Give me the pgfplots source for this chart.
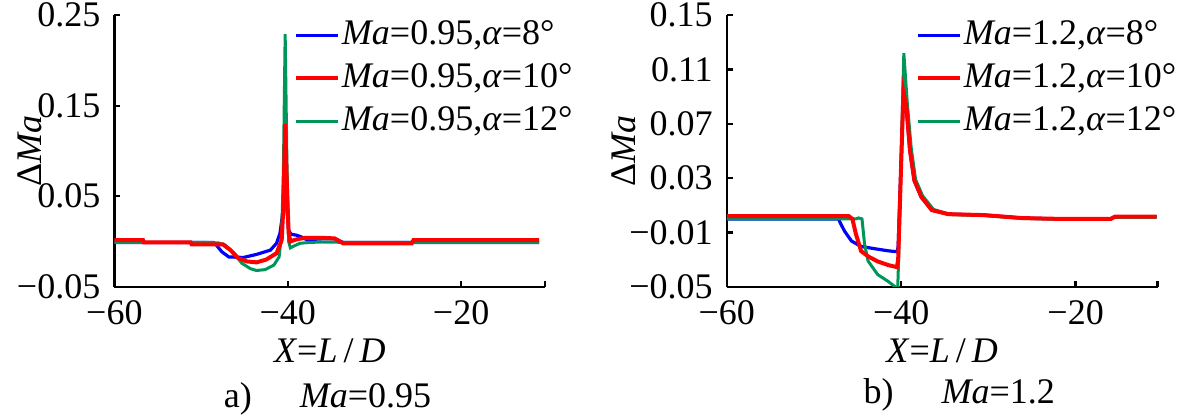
\documentclass[border=0pt]{standalone}
\usepackage{fontspec}
\setmainfont{Liberation Serif}
\usepackage{pgfplots}
\pgfplotsset{compat=1.18}
\definecolor{cblue}{RGB}{0,0,255}
\definecolor{cred}{RGB}{255,0,0}
\definecolor{cgreen}{RGB}{0,150,90}
\pgfplotsset{
 myaxis/.style={
  scale only axis, width=107.7pt, height=67.9pt,
  anchor=south west,
  axis x line=bottom, axis y line=left,
  axis line style={-, line width=0.6pt, black},
  tick align=inside, major tick length=1.5pt,
  tick style={line width=0.6pt, black},
  xmin=-60, xtick={-60,-40,-20}, xticklabels={−60,−40,−20},
  tick label style={font=\fontsize{9}{10}\selectfont, black},
  label style={font=\fontsize{9}{10}\selectfont},
  xlabel={\textit{X}=\textit{L}\,/\,\textit{D}},
  ylabel={Δ\textit{Ma}},
  xlabel style={at={(axis description cs:0.5,-0.235)}, anchor=center},
  legend style={draw=none, fill=none, font=\fontsize{9}{10}\selectfont, inner sep=0pt, row sep=2.35pt, column sep=0pt,
    nodes={inner sep=0.5pt}},
  legend cell align=left,
  legend image code/.code={\draw[#1] (0pt,0pt) -- (10.5pt,0pt);},
 }
}
\begin{document}
\begin{tikzpicture}
\useasboundingbox (0,0) rectangle (300pt,104.75pt);
% ---------------- panel a ----------------
\begin{axis}[myaxis, at={(28.6pt,33.05pt)},
  xmax=-10.3, extra x ticks={-10.3}, extra x tick labels={},
  ymin=-0.05, ymax=0.25, ytick={-0.05,0.05,0.15,0.25}, yticklabels={−0.05,0.05,0.15,0.25},
  ylabel style={at={(axis description cs:-0.196,0.5)}, anchor=center},
  legend style={at={(axis description cs:0.415,0.992)}, anchor=north west}]
\addplot[cblue, line width=0.8pt, forget plot] coordinates {
(-60,-0.001) (-48.6,-0.001) (-48.4,-0.002) (-47.6,-0.0114) (-46.8,-0.017) (-45.1,-0.0176)
(-43.6,-0.0142) (-42.0,-0.0095) (-41.3,-0.002) (-40.9,0.009) (-40.6,0.03) (-40.3,0.065)
(-40.1,0.035) (-39.9,0.012) (-39.6,0.008) (-39.0,0.007) (-38.4,0.005) (-37.8,0.002)
(-36,0.003) (-34.6,0.003) (-33.6,-0.001) (-11,-0.001)};
\addplot[cgreen, line width=0.75pt, forget plot] coordinates {
(-60,-0.001) (-49.5,-0.001) (-48,-0.0015) (-47.2,-0.004) (-46.2,-0.013) (-45.3,-0.024)
(-44.3,-0.030) (-43.6,-0.032) (-42.6,-0.031) (-41.6,-0.026) (-41.0,-0.017) (-40.7,0.009)
(-40.5,0.08) (-40.3,0.229) (-40.1,0.09) (-39.9,0.0) (-39.7,-0.007) (-39.3,-0.005)
(-38.6,-0.002) (-37.5,-0.001) (-36,-0.0005) (-33,-0.001) (-11,-0.001)};
\addplot[cred, line width=1.0pt, forget plot] coordinates {
(-60,0.0015) (-56.7,0.0015) (-56.6,-0.001) (-51.2,-0.001) (-51.1,-0.003) (-47.5,-0.003)
(-46.6,-0.0095) (-45.7,-0.0185) (-44.7,-0.022) (-43.6,-0.023) (-42.5,-0.020) (-41.3,-0.013)
(-40.7,0.0015) (-40.5,0.04) (-40.3,0.13) (-40.1,0.06) (-39.9,0.01) (-39.7,0.0)
(-39.3,0.0015) (-38.7,0.003) (-38,0.004) (-36,0.004) (-34.6,0.0035) (-33.6,-0.002)
(-25.7,-0.002) (-25.5,0.0015) (-11,0.0015)};
\addlegendimage{cblue, line width=0.8pt}
\addlegendentry{\textit{Ma}=0.95,\textit{α}=8°}
\addlegendimage{cred, line width=1.0pt}
\addlegendentry{\textit{Ma}=0.95,\textit{α}=10°}
\addlegendimage{cgreen, line width=0.8pt}
\addlegendentry{\textit{Ma}=0.95,\textit{α}=12°}
\end{axis}
% ---------------- panel b ----------------
\begin{axis}[myaxis, at={(181.7pt,33.05pt)},
  xmax=-10.6, extra x ticks={-10.6}, extra x tick labels={},
  ymin=-0.05, ymax=0.15, ytick={-0.05,-0.01,0.03,0.07,0.11,0.15},
  yticklabels={−0.05,−0.01,0.03,0.07,0.11,0.15},
  ylabel style={at={(axis description cs:-0.24,0.5)}, anchor=center},
  legend style={at={(axis description cs:0.437,0.992)}, anchor=north west}]
\addplot[cblue, line width=0.8pt, forget plot] coordinates {
(-60,0.0) (-47.2,0.0) (-46.9,-0.004) (-46.5,-0.009) (-45.7,-0.0163) (-44.6,-0.0203)
(-43.0,-0.022) (-41.5,-0.0235) (-40.45,-0.0242) (-40.35,-0.02) (-39.75,0.09)
(-39.4,0.08) (-39.0,0.05) (-38.5,0.028) (-37.7,0.016) (-36.5,0.0065) (-34.6,0.0035)
(-30.5,0.0028) (-26.1,0.0006) (-21.7,0.0) (-16.0,0.0) (-15.5,0.0016) (-10.7,0.0016)};
\addplot[cgreen, line width=0.75pt, forget plot] coordinates {
(-60,0.0) (-45.2,0.0) (-44.9,0.0007) (-44.5,0.0) (-44.2,-0.0187) (-43.8,-0.031)
(-42.7,-0.041) (-41.5,-0.046) (-40.7,-0.05) (-40.4,-0.051) (-40.3,-0.03) (-39.7,0.122)
(-39.3,0.085) (-38.85,0.052) (-38.35,0.029) (-37.55,0.017) (-36.3,0.007) (-34.4,0.0032)
(-30.5,0.0025) (-26,0.0003) (-21.7,-0.0003) (-16,-0.0003) (-15.5,0.0012) (-10.7,0.0012)};
\addplot[cred, line width=1.0pt, forget plot] coordinates {
(-60,0.002) (-46.0,0.002) (-45.6,0.0) (-45.2,-0.011) (-44.6,-0.0237) (-43.8,-0.0276)
(-42.7,-0.0313) (-41.5,-0.034) (-40.5,-0.0355) (-40.35,-0.03) (-39.75,0.0935)
(-39.4,0.0825) (-39.0,0.0506) (-38.5,0.0285) (-37.7,0.0163) (-36.5,0.0065) (-34.6,0.0035)
(-30.5,0.0028) (-26.1,0.0006) (-21.7,0.0) (-16.0,0.0) (-15.5,0.0016) (-10.7,0.0016)};
\addlegendimage{cblue, line width=0.8pt}
\addlegendentry{\textit{Ma}=1.2,\textit{α}=8°}
\addlegendimage{cred, line width=1.0pt}
\addlegendentry{\textit{Ma}=1.2,\textit{α}=10°}
\addlegendimage{cgreen, line width=0.8pt}
\addlegendentry{\textit{Ma}=1.2,\textit{α}=12°}
\end{axis}
% captions
\node[font=\fontsize{9}{10}\selectfont, anchor=center] at (81.9pt,5pt) {a)\hspace{12pt}\textit{Ma}=0.95};
\node[font=\fontsize{9}{10}\selectfont, anchor=center] at (239.8pt,6pt) {b)\hspace{12pt}\textit{Ma}=1.2};
\end{tikzpicture}
\end{document}
